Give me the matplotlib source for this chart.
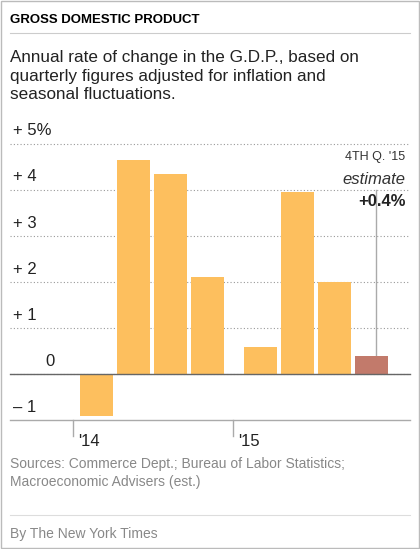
import matplotlib.pyplot as plt
from matplotlib.transforms import blended_transform_factory
from matplotlib.patches import Rectangle

quarters = ['Q1 14', 'Q2 14', 'Q3 14', 'Q4 14', 'Q1 15', 'Q2 15', 'Q3 15', 'Q4 15']
values = [-0.9, 4.65, 4.35, 2.1, 0.6, 3.95, 2.0, 0.4]
is_estimate = [False] * 7 + [True]
ytick_vals = [5, 4, 3, 2, 1, 0, -1]
ytick_labels = ['+ 5%', '+ 4', '+ 3', '+ 2', '+ 1', '0', '– 1']
year_labels = ["'14", "'15"]

ORANGE = '#FDBF5E'
EST = '#C27A6B'
GRID = '#999999'
GREY = '#888888'

fig = plt.figure(figsize=(4.2, 5.49), dpi=100)
fig.patches.append(Rectangle((0.002, 0.002), 0.996, 0.996, transform=fig.transFigure,
                             fill=False, edgecolor='#bbbbbb', lw=1))

fig.text(10/420, 1-20/549, 'GROSS DOMESTIC PRODUCT', fontsize=9.5, weight='bold',
         family='Liberation Sans', va='center')
fig.add_artist(plt.Line2D([10/420, 410/420], [1-33/549]*2, color='#cccccc', lw=0.8))
fig.text(10/420, 1-76/549, 'Annual rate of change in the G.D.P., based on\n'
         'quarterly figures adjusted for inflation and\nseasonal fluctuations.',
         fontsize=12.3, family='Liberation Sans', va='center', linespacing=1.33, color='#222222')

ax = fig.add_axes([0, 1-440/549, 1, 320/549])
xs = [i + (0.43 if i >= 4 else 0) for i in range(len(values))]
colors = [EST if e else ORANGE for e in is_estimate]
ax.bar(xs, values, width=0.89, color=colors, zorder=2)
ax.set_xlim(-96.5/37, (420-96.5)/37)
ax.set_ylim(-1.43, 5.52)
ax.axis('off')

trans = blended_transform_factory(ax.transAxes, ax.transData)
for v, lab in zip(ytick_vals, ytick_labels):
    if v == -1:
        ax.axhline(v, xmin=10/420, xmax=410/420, color='#aaaaaa', lw=1, zorder=1)
    else:
        ax.plot([10/420, 410/420], [v, v], transform=trans, color=GRID, lw=0.8,
                ls=(0, (1, 2)), zorder=1)
    x = 45/420 if v == 0 else 13/420
    ax.text(x, v + 0.12, lab, transform=trans, fontsize=12, family='Liberation Sans',
            va='bottom', ha='left', color='#222222')

ax.axhline(0, xmin=10/420, xmax=410/420, color='#666666', lw=1, zorder=3)

for xt, lab in zip([-0.64, 3.69], year_labels):
    ax.plot([xt, xt], [-1, -1.35], color='#aaaaaa', lw=1, clip_on=False)
    ax.text(xt + 0.15, -1.3, lab, fontsize=12, family='Liberation Sans', va='top',
            color='#222222', clip_on=False)

# annotation for the estimate
xe = xs[-1] + 0.12
ax.plot([xe, xe], [values[-1], 4.0], color='#aaaaaa', lw=1, zorder=1)
ax.text(0.965, 4.72, "4TH Q. '15", transform=trans, ha='right', va='center',
        fontsize=9, family='Liberation Sans', color='#333333')
ax.text(0.965, 4.22, 'estimate', transform=trans, ha='right', va='center',
        fontsize=12, style='italic', family='Liberation Sans', color='#333333')
ax.text(0.965, 3.74, '+0.4%', transform=trans, ha='right', va='center',
        fontsize=12, weight='bold', family='Liberation Sans', color='#222222')

fig.text(10/420, 1-473/549, 'Sources: Commerce Dept.; Bureau of Labor Statistics;\n'
         'Macroeconomic Advisers (est.)', fontsize=10, family='Liberation Sans',
         color=GREY, va='center', linespacing=1.3)
fig.add_artist(plt.Line2D([10/420, 410/420], [1-515/549]*2, color='#dddddd', lw=0.8))
fig.text(10/420, 1-534/549, 'By The New York Times', fontsize=10, family='Liberation Sans',
         color=GREY, va='center')

fig.savefig('out.png', dpi=100)
